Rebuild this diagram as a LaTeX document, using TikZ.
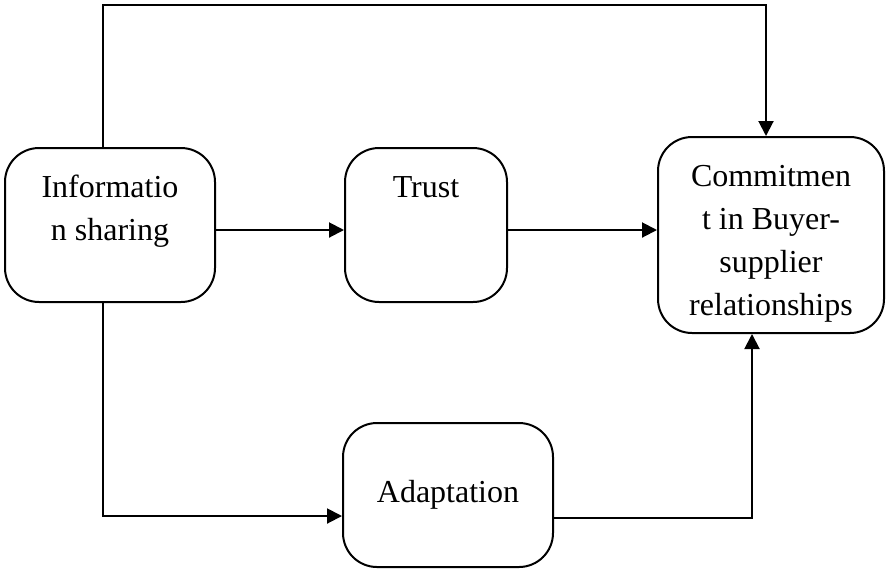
\documentclass[tikz,border=0pt]{standalone}
\usepackage{fontspec}
\setmainfont{Liberation Serif}
\usepackage{tikz}
\usetikzlibrary{arrows.meta}
\tikzstyle{every node}=[font=\fontsize{16}{21.5}\selectfont]
\tikzstyle{block}=[draw,
                   line width=1pt,
                   rounded corners=17pt,
                   inner sep=0pt,
                   align=center
                   ]
\tikzstyle{link}=[line width=1pt,->]
\newcommand{\toptext}[3]{\parbox[c][#1][t]{#2}{\centering\rule{0pt}{24.5pt}#3}}

\begin{document}
\begin{tikzpicture}[x=0.5pt,y=-0.5pt,>={Triangle[length=7.5pt,width=7.5pt]}]
\useasboundingbox (0,0) rectangle (888,569);
\node (info)   [block] at (110,225) {\toptext{77pt}{105pt}{Informatio\\n sharing}};
\node (trust)  [block] at (426,225) {\toptext{77pt}{81pt}{Trust}};
\node (commit) [block] at (771,235) {\toptext{98pt}{113pt}{Commitmen\\t in Buyer-\\supplier\\relationships}};
\node (adapt)  [block,minimum width=105pt,minimum height=72pt] at (448,495) {Adaptation};
\coordinate (tr) at (766,5);
 \draw[link] ([yshift=-2.5pt]info.east) -- ([yshift=-2.5pt]info.east -| trust.west);
 \draw[link] ([yshift=-2.5pt]trust.east) -- ([yshift=-2.5pt]trust.east -| commit.west);
 \draw[link] ([xshift=-3.5pt]info.north) |- (tr) -- (tr |- commit.north);
 \draw[link] ([xshift=-3.5pt]info.south) |- ([yshift=-10.5pt]adapt.west);
 \draw[link] ([yshift=-11.5pt]adapt.east) -| ([xshift=-9.5pt]commit.south);
\end{tikzpicture}
\end{document}
